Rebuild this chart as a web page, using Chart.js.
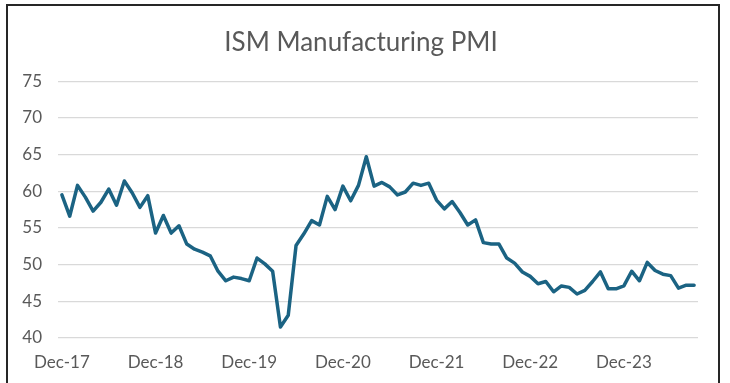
<!DOCTYPE html>
<html>
<head>
<meta charset="utf-8">
<title>ISM Manufacturing PMI</title>
<script src="https://cdn.jsdelivr.net/npm/chart.js@4.4.1/dist/chart.umd.min.js"></script>
<style>
  html, body { margin: 0; padding: 0; background: #fff; }
  #wrap { position: relative; width: 730px; height: 383px; overflow: hidden; }
  #pmiChart { position: absolute; left: 0; top: 0; }
  #frame { position: absolute; left: 6px; top: 4px; width: 710px; height: 400px; border: 2px solid #262626; pointer-events: none; }
</style>
</head>
<body>
<div id="wrap">
  <canvas id="pmiChart" width="730" height="383"></canvas>
  <div id="frame"></div>
</div>
<script>
// months, Dec-17 .. Sep-24
const months = [
    "Dec-17",
    "Jan-18", "Feb-18", "Mar-18", "Apr-18", "May-18", "Jun-18", "Jul-18", "Aug-18", "Sep-18", "Oct-18", "Nov-18", "Dec-18",
    "Jan-19", "Feb-19", "Mar-19", "Apr-19", "May-19", "Jun-19", "Jul-19", "Aug-19", "Sep-19", "Oct-19", "Nov-19", "Dec-19",
    "Jan-20", "Feb-20", "Mar-20", "Apr-20", "May-20", "Jun-20", "Jul-20", "Aug-20", "Sep-20", "Oct-20", "Nov-20", "Dec-20",
    "Jan-21", "Feb-21", "Mar-21", "Apr-21", "May-21", "Jun-21", "Jul-21", "Aug-21", "Sep-21", "Oct-21", "Nov-21", "Dec-21",
    "Jan-22", "Feb-22", "Mar-22", "Apr-22", "May-22", "Jun-22", "Jul-22", "Aug-22", "Sep-22", "Oct-22", "Nov-22", "Dec-22",
    "Jan-23", "Feb-23", "Mar-23", "Apr-23", "May-23", "Jun-23", "Jul-23", "Aug-23", "Sep-23", "Oct-23", "Nov-23", "Dec-23",
    "Jan-24", "Feb-24", "Mar-24", "Apr-24", "May-24", "Jun-24", "Jul-24", "Aug-24", "Sep-24"
];

// PMI index values, same order as months
const pmiValues = [
    59.5,
    56.6, 60.8, 59.2, 57.3, 58.5, 60.3, 58.1, 61.4, 59.8, 57.8, 59.4, 54.3,
    56.7, 54.3, 55.3, 52.8, 52.1, 51.7, 51.2, 49.1, 47.8, 48.3, 48.1, 47.8,
    50.9, 50.1, 49.1, 41.5, 43.1, 52.6, 54.2, 56.0, 55.4, 59.3, 57.5, 60.7,
    58.7, 60.8, 64.7, 60.7, 61.2, 60.6, 59.5, 59.9, 61.1, 60.8, 61.1, 58.8,
    57.6, 58.6, 57.1, 55.4, 56.1, 53.0, 52.8, 52.8, 50.9, 50.2, 49.0, 48.4,
    47.4, 47.7, 46.3, 47.1, 46.9, 46.0, 46.5, 47.7, 49.0, 46.7, 46.7, 47.1,
    49.1, 47.8, 50.3, 49.2, 48.7, 48.5, 46.8, 47.2, 47.2
];

// y axis ticks 40..75
const yTicks = [40, 45, 50, 55, 60, 65, 70, 75];

const textGray = "#595959";
const labelFont = { family: "Lato", size: 17 };

const ctx = document.getElementById("pmiChart").getContext("2d");

new Chart(ctx, {
    type: "line",
    data: {
        labels: months,
        datasets: [{
            label: "ISM Manufacturing PMI",
            data: pmiValues,
            borderColor: "#1b6383",
            borderWidth: 3.5,
            borderJoinStyle: "round",
            borderCapStyle: "round",
            pointRadius: 0,
            tension: 0,
            fill: false
        }]
    },
    options: {
        responsive: false,
        animation: false,
        devicePixelRatio: 1,
        layout: { padding: { top: 0, right: 8, bottom: 0, left: 0 } },
        plugins: {
            legend: { display: false },
            tooltip: { enabled: false },
            title: {
                display: true,
                text: "ISM Manufacturing PMI",
                color: textGray,
                font: { family: "Lato", size: 26, weight: "normal", lineHeight: 1.2 },
                padding: { top: 27, bottom: 23 }
            }
        },
        scales: {
            x: {
                offset: true,
                border: { display: false },
                grid: {
                    offset: true,
                    drawOnChartArea: false,
                    drawTicks: true,
                    tickLength: 5,
                    tickColor: c => (c.index % 12 === 0 ? "#bfbfbf" : "rgba(0,0,0,0)")
                },
                ticks: {
                    autoSkip: false,
                    maxRotation: 0,
                    padding: 9,
                    color: textGray,
                    font: labelFont,
                    callback: function (value, index) {
                        return index % 12 === 0 ? this.getLabelForValue(value) : null;
                    }
                },
                afterFit: s => { s.height = 45; }
            },
            y: {
                min: yTicks[0],
                max: yTicks[yTicks.length - 1],
                border: { display: false },
                grid: { color: "#d9d9d9", lineWidth: 1.2, drawTicks: false },
                ticks: {
                    stepSize: 5,
                    padding: 16,
                    color: textGray,
                    font: labelFont
                },
                afterBuildTicks: s => { s.ticks = yTicks.map(v => ({ value: v })); },
                afterFit: s => { s.width = 58; }
            },
            // empty right-hand axis, only keeps the gap at the right of the plot
            yRight: {
                position: "right",
                min: yTicks[0],
                max: yTicks[yTicks.length - 1],
                border: { display: false },
                grid: { display: false },
                ticks: { display: false },
                afterFit: s => { s.width = 24; }
            }
        }
    }
});
</script>
</body>
</html>
